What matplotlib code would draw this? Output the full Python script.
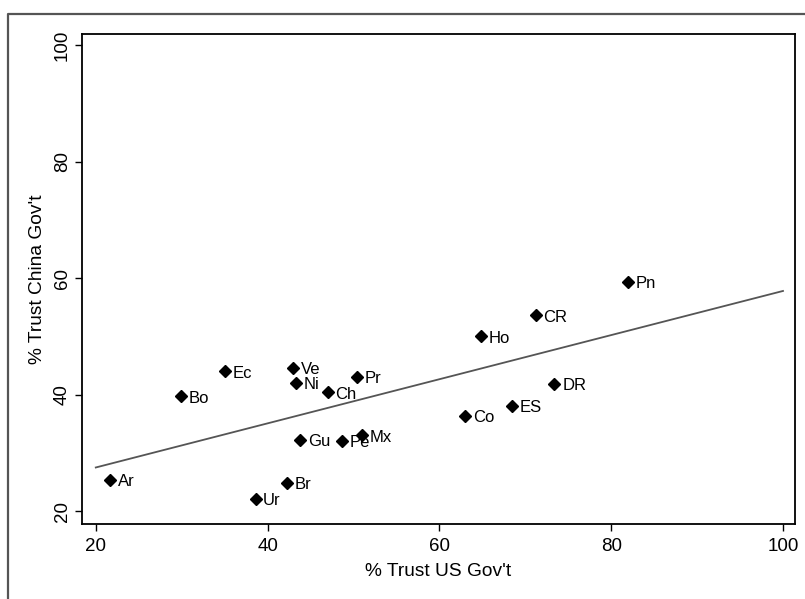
#! /usr/bin/env python3

import matplotlib
matplotlib.use('Agg')
import matplotlib.pyplot as plt
from matplotlib.lines import Line2D
import numpy as np

plt.rcParams.update({'font.size': 13.5, 'font.family': ['Liberation Sans', 'DejaVu Sans']})

# data
countries = ['Ar', 'Bo', 'Ec', 'Ve', 'Ni', 'Ch', 'Pr', 'Gu', 'Pe', 'Mx',
             'Br', 'Ur', 'Co', 'ES', 'DR', 'Ho', 'CR', 'Pn']
trustUS    = [21.7, 29.9, 35.0, 43.0, 43.3, 47.0, 50.4, 43.8, 48.7, 51.0,
              42.3, 38.6, 63.0, 68.4, 73.4, 64.8, 71.2, 81.9]
trustChina = [25.3, 39.7, 44.0, 44.6, 42.0, 40.4, 43.1, 32.2, 32.1, 33.0,
              24.9, 22.1, 36.4, 38.1, 41.9, 50.0, 53.6, 59.4]

# fitted line end points
fitX = [20., 100.]
fitY = [27.5, 57.8]

fig = plt.figure(figsize=(8.05, 5.99), dpi=100, facecolor='w')

# outer frame (left and top only visible)
fig.add_artist(Line2D([0.0103, 0.0103, 1.0], [0.0, 0.9766, 0.9766],
                      transform=fig.transFigure, color='#555555', lw=1.6))

ax = fig.add_axes([0.1019, 0.1252, 0.8857, 0.818])

ax.plot(fitX, fitY, color='#555555', lw=1.3, zorder=2)
ax.plot(trustUS, trustChina, 'D', color='k', markersize=6.0, zorder=3)

for name, x, y in zip(countries, trustUS, trustChina):
    ax.annotate(name, (x, y), xytext=(5.5, -1.2), textcoords='offset points',
                va='center', ha='left', fontsize=12)

ax.set_xlim(18.4, 101.4)
ax.set_ylim(17.8, 101.9)
ax.set_xticks([20, 40, 60, 80, 100])
ax.set_yticks([20, 40, 60, 80, 100])
ax.tick_params(direction='out', length=5, width=1, labelsize=13.5, pad=3)
ax.tick_params(axis='x', pad=5)
for lab in ax.get_yticklabels():
    lab.set_rotation(90)
    lab.set_va('center')

for sp in ax.spines.values():
    sp.set_linewidth(1.3)

ax.set_xlabel("% Trust US Gov't", fontsize=13.8, labelpad=6)
ax.set_ylabel("% Trust China Gov't", fontsize=13.8, labelpad=6)

fig.savefig('out.png', dpi=100)
